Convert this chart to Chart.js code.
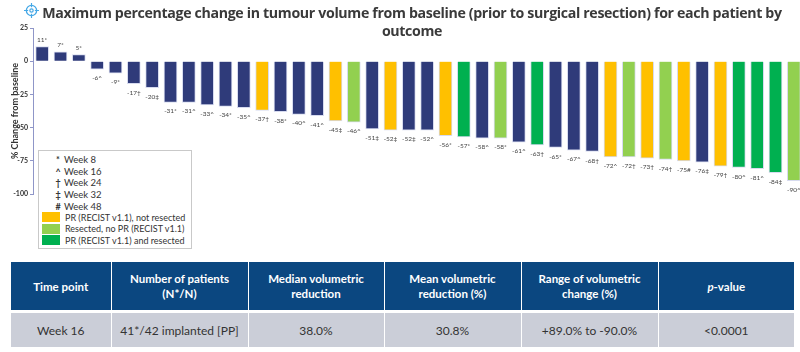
<!DOCTYPE html>
<html>
<head>
<meta charset="utf-8">
<script src="https://cdn.jsdelivr.net/npm/chart.js@4/dist/chart.umd.min.js"></script>
<style>
  html, body { margin: 0; padding: 0; background: #fff; width: 800px; height: 352px; overflow: hidden; }
  #chart { position: absolute; left: 0; top: 0; }
  #title {
    position: absolute; left: 0; top: 4px; width: 824px; text-align: center; white-space: nowrap;
    font: bold 14.2px/18px "Open Sans", sans-serif; letter-spacing: -0.35px; color: #3a3a3a;
  }
  #icon { position: absolute; left: 24px; top: 3px; }
  #legend {
    position: absolute; left: 38px; top: 150px; width: 152px; height: 97px;
    border: 1px solid #c9c9c9; background: #fff; font: 9px Lato, sans-serif; color: #333;
  }
  #legend div { position: absolute; white-space: nowrap; }
  #legend .sym { left: 14px; width: 10px; text-align: center; font-weight: bold; }
  #legend .swatch { left: 3px; width: 18px; height: 10px; }
  #tbl {
    position: absolute; left: 11px; top: 262px; width: 784px; border-collapse: collapse; table-layout: fixed;
    font: 11.5px/15px Lato, sans-serif; text-align: center;
  }
  #tbl th { height: 48px; padding: 0; background: #0b4780; color: #fff; font-weight: bold; border-right: 1px solid #fff; border-bottom: 3px solid #fff; }
  #tbl td { height: 34px; padding: 0; background: #cbced8; color: #333; border-right: 1px solid #fff; font-size: 12px; }
</style>
</head>
<body>
<canvas id="chart" width="810" height="210"></canvas>
<svg id="icon" width="15" height="15" viewBox="0 0 18 18" fill="none" stroke="#45a8e6">
  <circle cx="9" cy="9" r="6.2" stroke-width="1.6"/>
  <circle cx="9" cy="9" r="2" stroke-width="1.4"/>
  <path d="M9 0v5M9 13v5M0 9h5M13 9h5" stroke-width="1.4"/>
</svg>
<div id="title">Maximum percentage change in tumour volume from baseline (prior to surgical resection) for each patient by<br>outcome</div>
<div id="legend"></div>
<table id="tbl">
  <colgroup><col style="width:100px"><col style="width:137px"><col style="width:136px"><col style="width:137px"><col style="width:137px"><col></colgroup>
  <tr><th>Time point</th><th>Number of patients<br>(N*/N)</th><th>Median volumetric<br>reduction</th><th>Mean volumetric<br>reduction (%)</th><th>Range of volumetric<br>change (%)</th><th><i>p</i>-value</th></tr>
  <tr><td>Week 16</td><td>41*/42 implanted [PP]</td><td>38.0%</td><td>30.8%</td><td>+89.0% to -90.0%</td><td>&lt;0.0001</td></tr>
</table>
<script>
const changes = [11, 7, 5, -6, -9, -17, -20, -31, -31, -33, -34, -35, -37, -38, -40, -41, -45, -46, -51, -52, -52, -52, -56, -57, -58, -58, -61, -63, -65, -67, -68, -72, -72, -73, -74, -75, -76, -79, -80, -81, -84, -90];
const weekMarks = ["*", "*", "*", "^", "*", "†", "‡", "*", "^", "^", "*", "^", "†", "*", "^", "^", "‡", "^", "‡", "‡", "‡", "^", "*", "*", "^", "*", "^", "†", "*", "^", "†", "^", "†", "†", "†", "#", "‡", "†", "^", "^", "‡", "^"];
// n = none, y = PR not resected, l = resected no PR, g = PR and resected
const outcomes = ["n", "n", "n", "n", "n", "n", "n", "n", "n", "n", "n", "n", "y", "n", "n", "n", "y", "l", "n", "y", "n", "n", "y", "g", "n", "l", "n", "g", "n", "n", "n", "y", "l", "y", "l", "y", "n", "y", "g", "g", "g", "l"];
const yTicks = [25, 0, -25, -50, -75, -100];
const weekLegend = [["*", "Week 8"], ["^", "Week 16"], ["†", "Week 24"], ["‡", "Week 32"], ["#", "Week 48"]];
const outcomeLegend = [["y", "PR (RECIST v1.1), not resected"], ["l", "Resected, no PR (RECIST v1.1)"], ["g", "PR (RECIST v1.1) and resected"]];
const outcomeColors = { n: "#2f3b7a", y: "#ffc000", l: "#92d050", g: "#00b050" };

const barLabels = {
  id: "barLabels",
  afterDatasetsDraw(chart) {
    const ctx = chart.ctx;
    ctx.save();
    ctx.font = "6.5px Lato, sans-serif";
    ctx.fillStyle = "#444";
    ctx.textAlign = "center";
    ctx.textBaseline = "middle";
    chart.getDatasetMeta(0).data.forEach(function (bar, i) {
      const y = changes[i] > 0 ? bar.y - 7 : bar.y + 9;
      ctx.fillText(changes[i] + weekMarks[i], bar.x, y);
    });
    ctx.restore();
  },
};

new Chart(document.getElementById("chart").getContext("2d"), {
  type: "bar",
  data: {
    labels: changes.map(function (v, i) { return i + 1; }),
    datasets: [
      {
        data: changes,
        backgroundColor: outcomes.map(function (o) { return outcomeColors[o]; }),
        borderColor: "rgba(205, 210, 235, 0.8)",
        borderWidth: 1,
        barThickness: 13,
      },
    ],
  },
  plugins: [barLabels],
  options: {
    responsive: false,
    animation: false,
    layout: { padding: { top: 28, bottom: 16, right: 7, left: 0 } },
    scales: {
      x: { display: false },
      y: {
        min: -100,
        max: 25,
        afterFit: function (scale) { scale.width = 33; },
        afterBuildTicks: function (scale) {
          scale.ticks = yTicks.map(function (v) { return { value: v }; });
        },
        border: { color: "#8f96c8", width: 1 },
        grid: { drawOnChartArea: false, tickLength: 3, color: "#8f96c8" },
        ticks: { color: "#333", font: { size: 7, family: "Lato", weight: "bold" }, padding: 2 },
        title: {
          display: true,
          text: "% Change from baseline",
          color: "#333",
          font: { size: 9, family: "Lato", weight: "bold" },
          padding: { top: 10, bottom: 0 },
        },
      },
    },
    plugins: { legend: { display: false }, tooltip: { enabled: false } },
  },
});

const legend = document.getElementById("legend");
weekLegend.forEach(function (w, i) {
  const top = 3 + i * 11.7;
  legend.innerHTML += '<div class="sym" style="top:' + top + 'px">' + w[0] + '</div><div style="left:25px;top:' + top + 'px;font-size:9.5px">' + w[1] + "</div>";
});
outcomeLegend.forEach(function (o, i) {
  const top = 61 + i * 11.7;
  legend.innerHTML += '<div class="swatch" style="top:' + top + "px;background:" + outcomeColors[o[0]] + '"></div><div style="left:26px;top:' + (top - 0.5) + 'px">' + o[1] + "</div>";
});
</script>
</body>
</html>
